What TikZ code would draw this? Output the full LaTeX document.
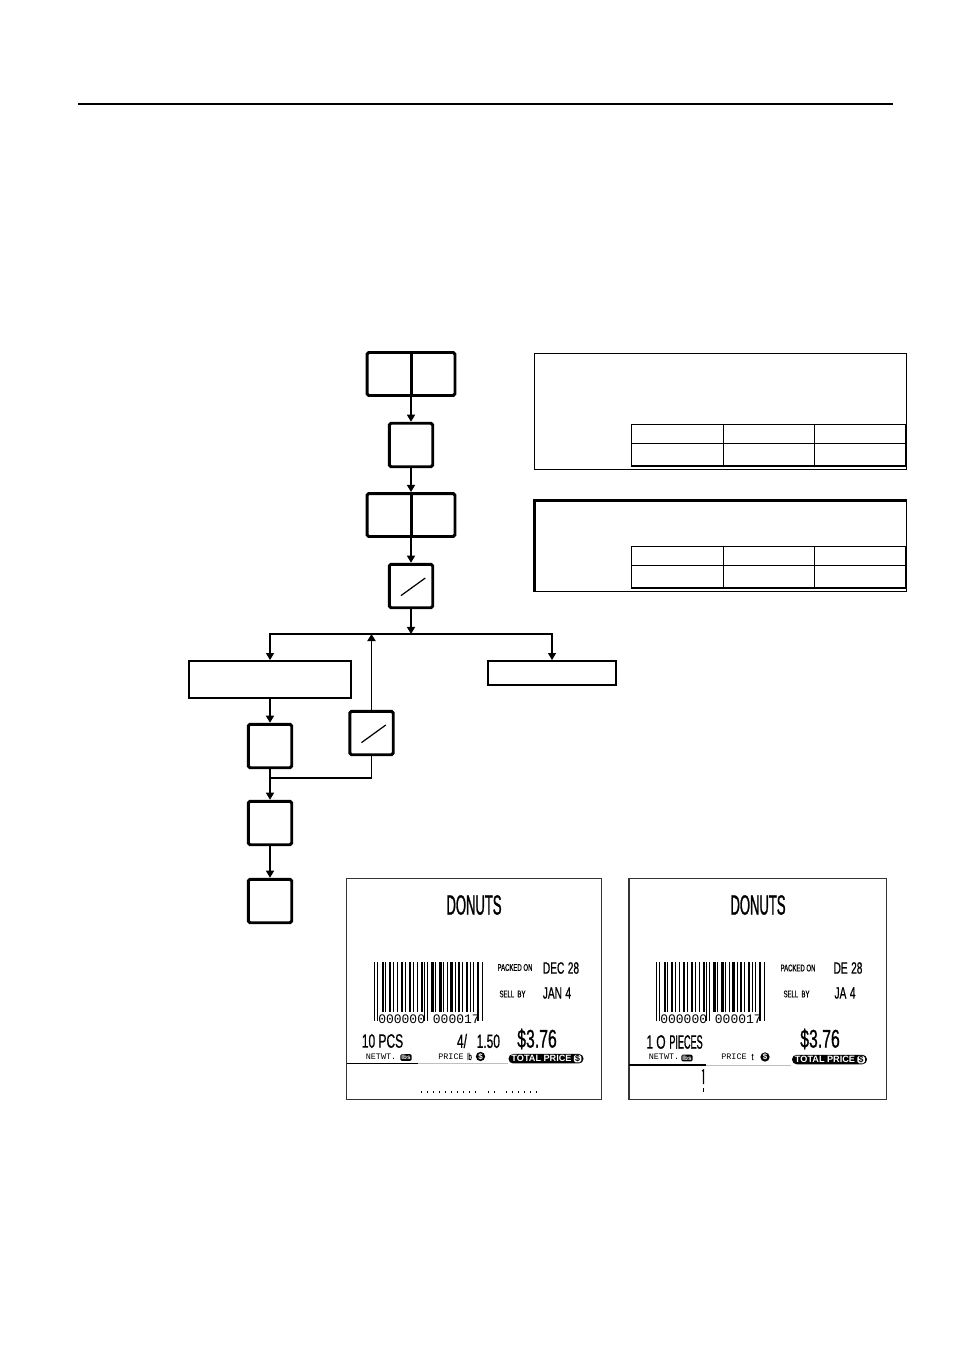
\documentclass[tikz,border=0pt]{standalone}
\usepackage{fontspec}
\setsansfont{Liberation Sans}
\newfontfamily\tagfont[FakeStretch=0.62,FakeBold=0.7]{Liberation Sans}
\newfontfamily\narrowfont[FakeStretch=0.47,FakeBold=1]{Liberation Sans}
\newfontfamily\tagmono{Liberation Mono}
\usetikzlibrary{arrows.meta}
\tikzset{
    keybox/.style={rectangle,draw,line width=1.7pt,rounded corners=1pt,
      minimum width=0.87cm,minimum height=0.87cm,inner sep=0pt},
    widekey/.style={keybox,minimum width=1.76cm,minimum height=0.86cm},
    msgbox/.style={rectangle,draw,line width=1.1pt,inner sep=0pt},
    flow/.style={-{Triangle[length=4pt,width=4.6pt]},line width=0.6pt},
    labelframe/.style={draw=black!80,line width=0.7pt},
    tagname/.style={font=\narrowfont\fontsize{15.8}{15.8}\selectfont,inner sep=0pt},
    tagdate/.style={font=\tagfont\fontsize{9.3}{9.3}\selectfont,inner sep=0pt},
    tagsmall/.style={font=\tagfont\fontsize{5.5}{5.5}\selectfont,inner sep=0pt},
    tagqty/.style={font=\tagfont\fontsize{11}{11}\selectfont,inner sep=0pt},
    tagprice/.style={font=\tagfont\fontsize{14.5}{14.5}\selectfont,inner sep=0pt},
    tagmonosmall/.style={font=\tagmono\fontsize{4.8}{4.8}\selectfont,inner sep=0pt},
    tagdigits/.style={font=\tagmono\fontsize{7.4}{7.4}\selectfont,inner sep=0pt},
    blackchip/.style={fill=black,text=white,rounded corners=0.8pt,inner sep=0.6pt,
      font=\sffamily\bfseries\fontsize{3.6}{3.6}\selectfont},
    dollardot/.style={circle,fill=black,text=white,inner sep=0.3pt,
      font=\sffamily\bfseries\fontsize{4.5}{4.5}\selectfont},
    totalbar/.style={fill=black,rounded corners=2.6pt,minimum width=1.5cm,
      minimum height=0.19cm,inner sep=0pt},
    totaltext/.style={text=white,inner sep=0pt,font=\sffamily\bfseries\fontsize{5.2}{5.2}\selectfont},
    totaldollar/.style={fill=white,rounded corners=1pt,minimum size=0.15cm,inner sep=0pt,
      font=\sffamily\bfseries\fontsize{5}{5}\selectfont},
    tagdots/.style={line width=1pt,dash pattern=on 0.8pt off 2.6pt},
}
\newcommand{\donutbars}{%
  \foreach \o/\w/\h in {1/1.3/59,4.3/1/59,8.7/2/50,12/1/50,16/2/50,20.3/1/50,23.7/1/50,
    28/2/50,32/1/50,36/2/50,40.3/1/50,43.7/1/50,47.7/2/50,51/1/59,54.3/1/59,58/3/50,
    62/1/50,66/3/50,70.3/1/50,74.3/1/50,77/3/50,82/1/50,84.7/2/50,88.7/1/50,93/2/50,
    97/1/50,100.3/1/50,104.3/2/59,108.7/1/59}
    \fill (\o,0) rectangle ++(\w,\h);%
}

\begin{document}
\begin{tikzpicture}[x=0.02cm,y=-0.02cm]
\useasboundingbox (0,0) rectangle (954,1351);
\draw[line width=1.7pt] (78,104) -- (893,104);

% key sequence
\node[widekey] (key1) at (411,374) {};
\node[keybox] (key2) at (411,445) {};
\node[widekey] (key3) at (411,515) {};
\node[keybox] (key4) at (411,586) {};
\draw[line width=1.7pt] (key1.north) -- (key1.south);
\draw[line width=1.7pt] (key3.north) -- (key3.south);
\draw[line width=0.7pt] ([shift={(-10,9.6)}]key4.center) -- ([shift={(14.3,-8)}]key4.center);
\draw[flow] (key1) -- (key2);
\draw[flow] (key2) -- (key3);
\draw[flow] (key3) -- (key4);

\coordinate (split) at (411,634);
\draw[flow] (key4) -- (split);
\node[msgbox,minimum width=3.23cm,minimum height=0.74cm] (msg1) at (270,679.5) {};
\node[msgbox,minimum width=2.57cm,minimum height=0.48cm] (msg2) at (552,673) {};
\draw[flow] (split) -| (msg1);
\draw[flow] (split) -| (msg2);

\node[keybox] (key5) at (371.5,733) {};
\node[keybox] (key6) at (270,746) {};
\node[keybox] (key7) at (270,823) {};
\node[keybox] (key8) at (270,901) {};
\draw[line width=0.7pt] ([shift={(-10,9.6)}]key5.center) -- ([shift={(14.3,-8)}]key5.center);
\draw[flow,line width=1pt] (key5) -- (key5.north |- split);
\coordinate (join) at (270,778);
\draw[line width=0.6pt] (key5.south) |- (join);
\draw[flow] (msg1) -- (key6);
\draw[flow] (key6) -- (key7);
\draw[flow] (key7) -- (key8);

% panels
\draw[line width=0.8pt] (534.3,353.3) rectangle (906.7,469.3);
\foreach \y in {424.3,443.7,466} \draw[line width=0.7pt] (631.3,\y) -- (905.7,\y);
\foreach \x in {631.3,723.3,814.3,905.7} \draw[line width=0.7pt] (\x,424.3) -- (\x,466);
\draw[line width=0.8pt] (534.3,500.7) rectangle (906.7,591.7);
\draw[line width=1.5pt] (534.3,591.7) -- (534.3,500.7) -- (906.7,500.7);
\foreach \y in {546.3,565.3,588} \draw[line width=0.7pt] (631.3,\y) -- (905.7,\y);
\foreach \x in {631.3,723.3,814.3,905.7} \draw[line width=0.7pt] (\x,546.3) -- (\x,588);

% label 1
\draw[labelframe] (346.7,878.3) rectangle (601.7,1099.3);
\node[tagname] (name1) at (474,905) {DONUTS};
\begin{scope}[shift={(373,962)}] \donutbars \end{scope}
\node[tagdigits] (code1) at (429,1019) {000000 000017};
\node[tagsmall] (packed1) at (515,967.5) {PACKED ON};
\node[tagdate] (date1) at (561,968) {DEC\hspace{2pt}28};
\node[tagsmall] (sell1) at (512.5,994) {SELL\ \ BY};
\node[tagdate] (until1) at (557,993) {JAN\hspace{2pt}4};
\node[tagqty] (qty1) at (382.5,1041) {10 PCS};
\node[tagqty] (unit1) at (478.5,1041) {4/\enspace1.50};
\node[tagprice] (price1) at (537,1039) {\$3.76};
\node[tagmonosmall] (net1) at (381,1056.5) {NETWT.};
\node[blackchip] (lbs1) at (406,1057.5) {lbs};
\node[tagmonosmall] (per1) at (451,1056.5) {PRICE};
\node[tagsmall] (lb1) at (469.5,1056.5) {lb};
\node[dollardot] (dol1) at (480.5,1056.5) {\$};
\node[totalbar] (total1) at (546,1058.7) {};
\node[totaltext] at (541.5,1058.7) {TOTAL PRICE};
\node[totaldollar] at (577.5,1058.7) {\$};
\draw[line width=0.7pt] (346.7,1063.5) -- (418,1063.5);
\draw[gray!50,line width=0.5pt] (418,1063.5) -- (508,1063.5);
\draw[tagdots] (421,1092) -- (479,1092);
\draw[tagdots] (488,1092) -- (497,1092);
\draw[tagdots] (506,1092) -- (537,1092);

% label 2
\draw[labelframe] (629,878.3) rectangle (886.7,1099.3);
\node[tagname] (name2) at (758,905) {DONUTS};
\begin{scope}[shift={(655,962)}] \donutbars \end{scope}
\node[tagdigits] (code2) at (711,1019) {000000 000017};
\node[tagsmall] (packed2) at (798,968) {PACKED ON};
\node[tagdate] (date2) at (848,968) {DE\hspace{2pt}28};
\node[tagsmall] (sell2) at (796.5,994) {SELL\ \ BY};
\node[tagdate] (until2) at (845,993) {JA\hspace{2pt}4};
\node[tagqty] (qty2) at (656,1042) {1\,O};
\node[tagqty,font=\narrowfont\fontsize{11}{11}\selectfont] (pcs2) at (686,1042) {PIECES};
\node[tagprice] (price2) at (820,1039) {\$3.76};
\node[tagmonosmall] (net2) at (664,1057) {NETWT.};
\node[blackchip] (lbs2) at (687,1058) {lbs};
\node[tagmonosmall] (per2) at (734,1057) {PRICE};
\node[tagsmall] (lb2) at (752.5,1057) {t};
\node[dollardot] (dol2) at (765,1057) {\$};
\node[totalbar] (total2) at (829.5,1059.5) {};
\node[totaltext] at (825,1059.5) {TOTAL PRICE};
\node[totaldollar] at (861,1059.5) {\$};
\draw[line width=0.7pt] (629,1065) -- (706,1065);
\draw[gray!50,line width=0.5pt] (706,1065) -- (791,1065);
\draw[line width=0.7pt] (702,1071) -- (703.5,1070) -- (703.5,1084);
\draw[line width=0.7pt] (703.5,1088) -- (703.5,1092);
\end{tikzpicture}
\end{document}
